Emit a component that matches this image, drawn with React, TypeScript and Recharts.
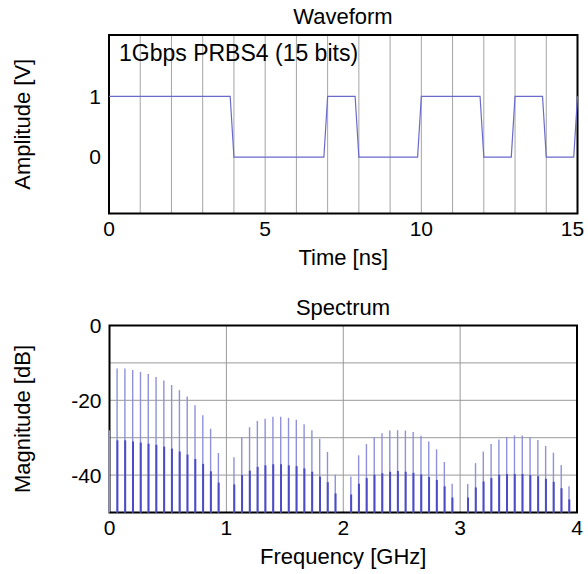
import React from 'react';
import { ComposedChart, LineChart, Line, Bar, XAxis, YAxis, CartesianGrid, ReferenceArea } from 'recharts';

// ---------- Waveform data ----------
const waveTime = [0, 3.88, 4, 6.88, 7, 7.88, 8, 9.88, 10, 11.88, 12, 12.88, 13, 13.88, 14, 14.88, 15];
const waveAmp = [1, 1, 0, 0, 1, 1, 0, 0, 1, 1, 0, 0, 1, 1, 0, 0, 1];
const timeTicks = [0, 1, 2, 3, 4, 5, 6, 7, 8, 9, 10, 11, 12, 13, 14, 15];
const timeLabels = [0, 5, 10, 15];
const ampTicks = [0, 1];
const ampDomain = [-0.93, 2.01];

// ---------- Spectrum data ----------
const freqGHz = [
  0, 0.0667, 0.1333, 0.2, 0.2667, 0.3333, 0.4, 0.4667, 0.5333, 0.6, 0.6667, 0.7333, 0.8, 0.8667, 0.9333, 1.0,
  1.0667, 1.1333, 1.2, 1.2667, 1.3333, 1.4, 1.4667, 1.5333, 1.6, 1.6667, 1.7333, 1.8, 1.8667, 1.9333, 2.0,
  2.0667, 2.1333, 2.2, 2.2667, 2.3333, 2.4, 2.4667, 2.5333, 2.6, 2.6667, 2.7333, 2.8, 2.8667, 2.9333, 3.0,
  3.0667, 3.1333, 3.2, 3.2667, 3.3333, 3.4, 3.4667, 3.5333, 3.6, 3.6667, 3.7333, 3.8, 3.8667, 3.9333,
];
const magPeak: (number | null)[] = [
  -28, -11.5, -11.5, -11.9, -12.4, -13.0, -13.8, -14.7, -15.9, -17.3, -19.0, -21.3, -24.0, -27.6, -34.1, null,
  -35.2, -29.9, -27.2, -25.5, -24.9, -24.4, -24.4, -24.7, -25.2, -26.4, -28.0, -30.3, -33.8, -39.9, null,
  -40.4, -34.7, -31.7, -29.8, -28.8, -28.1, -28.0, -28.1, -28.5, -29.5, -31.0, -33.1, -36.5, -42.3, null,
  -42.4, -36.8, -33.7, -31.7, -30.5, -29.8, -29.4, -29.4, -29.8, -30.6, -32.2, -34.0, -37.3, -43.0,
];
const magLow: (number | null)[] = [
  null, -30.7, -30.7, -31.0, -31.3, -31.6, -31.9, -32.4, -32.9, -33.7, -34.5, -35.7, -37.0, -39.0, -42.0, null,
  -42.5, -40.0, -38.8, -37.8, -37.4, -37.1, -37.1, -37.4, -37.6, -38.2, -39.1, -40.4, -41.9, -44.9, null,
  -45.2, -42.3, -40.8, -39.9, -39.5, -39.1, -38.9, -39.1, -39.4, -39.8, -40.5, -41.3, -43.0, -46.0, null,
  -46.0, -43.3, -41.7, -40.8, -39.9, -39.7, -39.7, -39.7, -40.0, -40.3, -41.0, -41.8, -43.5, -46.5,
];
const freqTicks = [0, 1, 2, 3, 4];
const magTicks = [0, -10, -20, -30, -40, -50];
const magLabels = [0, -20, -40];
const magFloor = -50;

const waveData = waveTime.map((t, i) => ({ t, v: waveAmp[i] }));
const specData = freqGHz.map((f, i) => ({
  f,
  peak: magPeak[i] == null ? null : [magFloor, magPeak[i]],
  low: magLow[i] == null ? null : [magFloor, magLow[i]],
}));

const FONT = '"Liberation Sans", Arial, sans-serif';
const FS = 21;
const tickStyle = { fill: '#000', fontSize: FS, fontFamily: FONT };
const labelStyle = { fill: '#000', fontSize: 22, fontFamily: FONT };

const TimeTick = (props: any) => {
  const { x, y, payload } = props;
  const v = payload.value;
  if (!timeLabels.includes(v)) return <g />;
  const last = v === timeLabels[timeLabels.length - 1];
  return (
    <text x={x} y={y} dy="0.71em" dx={last ? -5 : 0} textAnchor="middle" fill="#000" fontSize={FS} fontFamily={FONT}>
      {v}
    </text>
  );
};

export default function App() {
  return (
    <div style={{ position: 'absolute', left: 0, top: 0, width: 588, height: 574, background: '#fff', fontFamily: FONT }}>
      <div style={{ position: 'absolute', left: 109, width: 468, top: 6, textAlign: 'center', fontSize: 22, lineHeight: '22px', color: '#000' }}>Waveform</div>
      <div style={{ position: 'absolute', left: 119, top: 42, fontSize: 23, lineHeight: '23px', color: '#000', zIndex: 2 }}>1Gbps PRBS4 (15 bits)</div>
      <div style={{ position: 'absolute', left: 0, top: 0 }}>
        <LineChart width={588} height={290} data={waveData} margin={{ top: 35, right: 10.5, left: 49, bottom: 46.5 }}>
          <CartesianGrid horizontal={false} stroke="#a4a4a4" strokeWidth={1} />
          <XAxis
            dataKey="t"
            type="number"
            domain={[0, 15]}
            ticks={timeTicks}
            interval={0}
            tickLine={false}
            axisLine={false}
            height={30}
            tick={<TimeTick />}
            label={{ value: 'Time [ns]', position: 'bottom', offset: 6, ...labelStyle }}
          />
          <YAxis
            type="number"
            domain={ampDomain}
            ticks={ampTicks}
            allowDataOverflow
            width={60}
            tickLine={false}
            axisLine={false}
            tick={tickStyle}
            label={{ value: 'Amplitude [V]', angle: -90, position: 'insideLeft', offset: -27, style: { textAnchor: 'middle' }, ...labelStyle }}
          />
          <ReferenceArea x1={0} x2={15} y1={ampDomain[0]} y2={ampDomain[1]} fill="none" fillOpacity={0} stroke="#000" strokeWidth={2} ifOverflow="visible" />
          <Line dataKey="v" type="linear" stroke="#6a6acc" strokeWidth={1.2} dot={false} isAnimationActive={false} />
        </LineChart>
      </div>
      <div style={{ position: 'absolute', left: 109, width: 468, top: 297, textAlign: 'center', fontSize: 22, lineHeight: '22px', color: '#000' }}>Spectrum</div>
      <div style={{ position: 'absolute', left: 0, top: 290 }}>
        <ComposedChart width={588} height={284} data={specData} margin={{ top: 35.5, right: 11, left: 49.5, bottom: 31.5 }}>
          <CartesianGrid stroke="#999" strokeWidth={1} />
          <XAxis
            dataKey="f"
            type="number"
            domain={[0, 4]}
            ticks={freqTicks}
            interval={0}
            tickLine={false}
            axisLine={false}
            height={30}
            tick={tickStyle}
            label={{ value: 'Frequency [GHz]', position: 'bottom', offset: 6, ...labelStyle }}
          />
          <XAxis xAxisId="b" dataKey="f" type="number" domain={[0, 4]} hide />
          <YAxis
            type="number"
            domain={[magFloor, 0]}
            ticks={magTicks}
            interval={0}
            tickFormatter={(v: number) => (magLabels.includes(v) ? String(v) : '')}
            width={60}
            tickLine={false}
            axisLine={false}
            tick={tickStyle}
            label={{ value: 'Magnitude [dB]', angle: -90, position: 'insideLeft', offset: -27.5, style: { textAnchor: 'middle' }, ...labelStyle }}
          />
          <Bar dataKey="peak" fill="#9090dc" barSize={1.4} isAnimationActive={false} />
          <Bar dataKey="low" xAxisId="b" fill="#4c4cc8" barSize={2} isAnimationActive={false} />
          <ReferenceArea x1={0} x2={4} y1={magFloor} y2={0} fill="none" fillOpacity={0} stroke="#000" strokeWidth={2} ifOverflow="visible" />
        </ComposedChart>
      </div>
    </div>
  );
}
